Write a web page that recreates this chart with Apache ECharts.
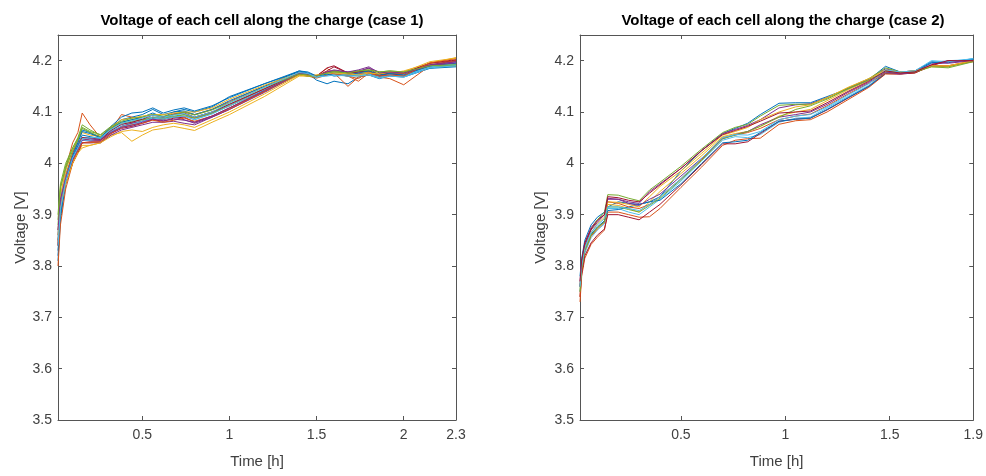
<!DOCTYPE html>
<html>
<head>
<meta charset="utf-8">
<script src="https://cdn.jsdelivr.net/npm/echarts@6/dist/echarts.min.js"></script>
<style>html,body{margin:0;padding:0;background:#fff;}#c{width:986px;height:476px;}</style>
</head>
<body>
<div id="c"></div>
<script>
// ---------- DATA ----------
const titles = ['Voltage of each cell along the charge (case 1)', 'Voltage of each cell along the charge (case 2)'];
const xName = 'Time [h]';
const yName = 'Voltage [V]';
const yTicks = [3.5, 3.6, 3.7, 3.8, 3.9, 4, 4.1, 4.2];
const case1XTicks = [0.5, 1, 1.5, 2, 2.3];
const case2XTicks = [0.5, 1, 1.5, 1.9];

const case1Time = [0.016, 0.03, 0.06, 0.1, 0.13, 0.155, 0.2, 0.26, 0.32, 0.38, 0.44, 0.5, 0.56, 0.62, 0.68, 0.74, 0.8, 0.9, 1.0, 1.2, 1.4, 1.45, 1.5, 1.56, 1.6, 1.68, 1.74, 1.8, 1.86, 1.92, 2.0, 2.15, 2.3];
const case1Volts = [
  [3.83, 3.90, 3.97, 4.02, 4.045, 4.065, 4.06, 4.05, 4.07, 4.085, 4.09, 4.095, 4.105, 4.095, 4.1, 4.105, 4.1, 4.11, 4.13, 4.155, 4.178, 4.175, 4.162, 4.155, 4.16, 4.155, 4.168, 4.172, 4.165, 4.17, 4.168, 4.185, 4.188],
  [3.84, 3.93, 3.99, 4.04, 4.06, 4.098, 4.075, 4.05, 4.065, 4.095, 4.09, 4.085, 4.09, 4.085, 4.095, 4.1, 4.095, 4.105, 4.12, 4.15, 4.176, 4.17, 4.17, 4.185, 4.175, 4.17, 4.165, 4.178, 4.17, 4.172, 4.17, 4.195, 4.2],
  [3.85, 3.91, 3.96, 4.0, 4.02, 4.035, 4.035, 4.04, 4.055, 4.06, 4.043, 4.055, 4.065, 4.068, 4.072, 4.068, 4.064, 4.08, 4.095, 4.13, 4.17, 4.17, 4.172, 4.178, 4.175, 4.172, 4.17, 4.175, 4.172, 4.175, 4.18, 4.195, 4.206],
  [3.87, 3.92, 3.965, 4.005, 4.025, 4.04, 4.04, 4.04, 4.055, 4.065, 4.07, 4.075, 4.08, 4.08, 4.082, 4.078, 4.075, 4.09, 4.105, 4.14, 4.175, 4.172, 4.17, 4.176, 4.18, 4.178, 4.18, 4.185, 4.178, 4.176, 4.175, 4.19, 4.198],
  [3.88, 3.95, 3.995, 4.03, 4.05, 4.075, 4.065, 4.055, 4.07, 4.08, 4.085, 4.085, 4.09, 4.09, 4.092, 4.095, 4.09, 4.1, 4.115, 4.145, 4.172, 4.17, 4.168, 4.175, 4.178, 4.175, 4.178, 4.18, 4.175, 4.178, 4.176, 4.188, 4.192],
  [3.86, 3.93, 3.98, 4.015, 4.035, 4.05, 4.048, 4.05, 4.065, 4.075, 4.08, 4.085, 4.09, 4.088, 4.09, 4.092, 4.085, 4.098, 4.115, 4.145, 4.176, 4.174, 4.168, 4.172, 4.176, 4.172, 4.174, 4.176, 4.17, 4.174, 4.172, 4.19, 4.195],
  [3.85, 3.91, 3.96, 4.0, 4.02, 4.04, 4.042, 4.042, 4.058, 4.068, 4.072, 4.078, 4.085, 4.082, 4.088, 4.09, 4.08, 4.092, 4.108, 4.14, 4.177, 4.174, 4.17, 4.18, 4.188, 4.176, 4.175, 4.178, 4.17, 4.172, 4.174, 4.192, 4.2],
  [3.81, 3.89, 3.96, 4.01, 4.035, 4.055, 4.052, 4.048, 4.068, 4.08, 4.085, 4.09, 4.098, 4.09, 4.1, 4.102, 4.095, 4.105, 4.122, 4.15, 4.18, 4.178, 4.17, 4.172, 4.174, 4.17, 4.172, 4.175, 4.168, 4.172, 4.17, 4.186, 4.19],
  [3.84, 3.92, 3.975, 4.02, 4.04, 4.05, 4.045, 4.045, 4.06, 4.072, 4.078, 4.082, 4.088, 4.085, 4.09, 4.092, 4.088, 4.098, 4.112, 4.145, 4.174, 4.17, 4.166, 4.172, 4.176, 4.15, 4.168, 4.172, 4.168, 4.165, 4.153, 4.19, 4.2],
  [3.87, 3.94, 3.985, 4.025, 4.045, 4.06, 4.055, 4.052, 4.07, 4.085, 4.088, 4.092, 4.095, 4.095, 4.098, 4.1, 4.1, 4.108, 4.125, 4.152, 4.176, 4.172, 4.17, 4.176, 4.178, 4.174, 4.176, 4.178, 4.174, 4.176, 4.175, 4.195, 4.205],
  [3.86, 3.925, 3.97, 4.01, 4.03, 4.045, 4.045, 4.045, 4.062, 4.072, 4.078, 4.082, 4.088, 4.086, 4.09, 4.085, 4.078, 4.09, 4.105, 4.138, 4.174, 4.172, 4.17, 4.178, 4.18, 4.176, 4.178, 4.186, 4.17, 4.176, 4.178, 4.192, 4.198],
  [3.89, 3.955, 3.99, 4.025, 4.045, 4.068, 4.06, 4.052, 4.068, 4.078, 4.082, 4.085, 4.088, 4.088, 4.09, 4.095, 4.088, 4.098, 4.112, 4.142, 4.173, 4.17, 4.168, 4.176, 4.18, 4.176, 4.18, 4.182, 4.178, 4.18, 4.178, 4.188, 4.19],
  [3.85, 3.92, 3.97, 4.01, 4.028, 4.045, 4.045, 4.048, 4.062, 4.072, 4.076, 4.082, 4.088, 4.086, 4.09, 4.092, 4.085, 4.096, 4.112, 4.143, 4.175, 4.173, 4.168, 4.174, 4.176, 4.172, 4.172, 4.174, 4.168, 4.172, 4.17, 4.188, 4.193],
  [3.84, 3.915, 3.965, 4.008, 4.03, 4.05, 4.05, 4.046, 4.064, 4.076, 4.08, 4.086, 4.094, 4.09, 4.096, 4.098, 4.09, 4.1, 4.115, 4.145, 4.176, 4.173, 4.17, 4.186, 4.19, 4.176, 4.178, 4.18, 4.172, 4.176, 4.176, 4.195, 4.202],
  [3.82, 3.9, 3.965, 4.015, 4.04, 4.062, 4.058, 4.05, 4.072, 4.09, 4.098, 4.1, 4.108, 4.098, 4.104, 4.108, 4.102, 4.112, 4.128, 4.155, 4.18, 4.176, 4.17, 4.174, 4.17, 4.172, 4.176, 4.18, 4.172, 4.175, 4.172, 4.19, 4.195],
  [3.8, 3.88, 3.95, 4.0, 4.025, 4.04, 4.04, 4.042, 4.058, 4.07, 4.075, 4.078, 4.084, 4.08, 4.084, 4.088, 4.082, 4.092, 4.106, 4.14, 4.174, 4.172, 4.17, 4.178, 4.174, 4.17, 4.16, 4.176, 4.17, 4.172, 4.17, 4.196, 4.204],
  [3.86, 3.915, 3.96, 4.0, 4.02, 4.03, 4.035, 4.04, 4.052, 4.062, 4.065, 4.062, 4.07, 4.075, 4.078, 4.075, 4.07, 4.085, 4.1, 4.135, 4.172, 4.17, 4.172, 4.176, 4.176, 4.174, 4.172, 4.176, 4.174, 4.178, 4.178, 4.198, 4.205],
  [3.87, 3.93, 3.97, 4.008, 4.028, 4.045, 4.048, 4.045, 4.06, 4.07, 4.074, 4.08, 4.086, 4.083, 4.086, 4.084, 4.08, 4.092, 4.108, 4.142, 4.175, 4.173, 4.17, 4.178, 4.182, 4.178, 4.182, 4.188, 4.176, 4.178, 4.176, 4.19, 4.196],
  [3.9, 3.96, 4.0, 4.03, 4.048, 4.07, 4.062, 4.056, 4.072, 4.082, 4.088, 4.09, 4.095, 4.092, 4.095, 4.1, 4.094, 4.104, 4.118, 4.148, 4.174, 4.172, 4.17, 4.176, 4.178, 4.176, 4.18, 4.182, 4.178, 4.18, 4.178, 4.19, 4.192],
  [3.84, 3.91, 3.965, 4.01, 4.03, 4.048, 4.05, 4.05, 4.066, 4.078, 4.083, 4.088, 4.094, 4.09, 4.094, 4.097, 4.09, 4.1, 4.118, 4.148, 4.177, 4.175, 4.168, 4.17, 4.172, 4.17, 4.17, 4.172, 4.166, 4.17, 4.168, 4.186, 4.19]
];

const case2Time = [0.017, 0.025, 0.04, 0.07, 0.1, 0.134, 0.15, 0.2, 0.25, 0.3, 0.35, 0.4, 0.5, 0.6, 0.7, 0.76, 0.82, 0.88, 0.97, 1.05, 1.12, 1.2, 1.3, 1.4, 1.48, 1.55, 1.62, 1.7, 1.78, 1.9];
const case2Volts = [
  [3.78, 3.815, 3.85, 3.88, 3.895, 3.905, 3.915, 3.925, 3.922, 3.92, 3.925, 3.935, 3.985, 4.025, 4.058, 4.068, 4.078, 4.095, 4.117, 4.118, 4.118, 4.13, 4.145, 4.163, 4.189, 4.178, 4.18, 4.198, 4.196, 4.204],
  [3.73, 3.78, 3.815, 3.842, 3.856, 3.87, 3.905, 3.905, 3.9, 3.895, 3.896, 3.912, 3.953, 3.993, 4.035, 4.045, 4.048, 4.049, 4.076, 4.083, 4.085, 4.1, 4.124, 4.148, 4.174, 4.174, 4.176, 4.19, 4.19, 4.198],
  [3.75, 3.795, 3.83, 3.86, 3.875, 3.888, 3.92, 3.918, 3.912, 3.905, 3.925, 3.945, 3.98, 4.015, 4.052, 4.058, 4.062, 4.072, 4.092, 4.1, 4.105, 4.122, 4.143, 4.162, 4.18, 4.176, 4.178, 4.188, 4.188, 4.2],
  [3.77, 3.81, 3.845, 3.875, 3.89, 3.9, 3.93, 3.93, 3.925, 3.922, 3.945, 3.96, 3.99, 4.025, 4.058, 4.066, 4.074, 4.085, 4.108, 4.114, 4.116, 4.128, 4.146, 4.164, 4.184, 4.178, 4.18, 4.195, 4.195, 4.2],
  [3.76, 3.80, 3.84, 3.872, 3.89, 3.905, 3.939, 3.938, 3.932, 3.927, 3.948, 3.963, 3.994, 4.028, 4.06, 4.07, 4.076, 4.092, 4.113, 4.115, 4.115, 4.127, 4.147, 4.165, 4.186, 4.178, 4.18, 4.19, 4.188, 4.2],
  [3.75, 3.79, 3.825, 3.855, 3.87, 3.882, 3.912, 3.912, 3.905, 3.9, 3.915, 3.93, 3.965, 4.005, 4.045, 4.052, 4.05, 4.056, 4.08, 4.088, 4.09, 4.108, 4.13, 4.152, 4.178, 4.176, 4.178, 4.196, 4.2, 4.202],
  [3.74, 3.785, 3.82, 3.845, 3.86, 3.872, 3.9, 3.9, 3.895, 3.89, 3.905, 3.92, 3.958, 3.998, 4.038, 4.038, 4.042, 4.058, 4.082, 4.086, 4.088, 4.104, 4.127, 4.15, 4.175, 4.174, 4.176, 4.19, 4.2, 4.2],
  [3.76, 3.8, 3.835, 3.862, 3.876, 3.888, 3.908, 3.91, 3.915, 3.92, 3.925, 3.928, 3.96, 4.0, 4.04, 4.042, 4.045, 4.06, 4.082, 4.086, 4.088, 4.105, 4.128, 4.15, 4.176, 4.175, 4.178, 4.196, 4.198, 4.202],
  [3.74, 3.79, 3.83, 3.858, 3.872, 3.885, 3.925, 3.922, 3.915, 3.912, 3.92, 3.935, 3.97, 4.008, 4.05, 4.055, 4.06, 4.068, 4.085, 4.092, 4.096, 4.112, 4.135, 4.156, 4.176, 4.175, 4.178, 4.19, 4.19, 4.2],
  [3.76, 3.8, 3.835, 3.865, 3.882, 3.895, 3.925, 3.924, 3.92, 3.915, 3.935, 3.955, 3.985, 4.02, 4.055, 4.062, 4.07, 4.085, 4.1, 4.11, 4.114, 4.128, 4.148, 4.165, 4.182, 4.178, 4.18, 4.19, 4.19, 4.2],
  [3.76, 3.8, 3.84, 3.87, 3.885, 3.9, 3.932, 3.93, 3.922, 3.918, 3.93, 3.94, 3.975, 4.01, 4.048, 4.056, 4.062, 4.075, 4.09, 4.095, 4.1, 4.115, 4.138, 4.158, 4.178, 4.174, 4.178, 4.192, 4.198, 4.2],
  [3.75, 3.795, 3.83, 3.86, 3.874, 3.886, 3.915, 3.915, 3.91, 3.905, 3.918, 3.932, 3.968, 4.006, 4.048, 4.055, 4.062, 4.072, 4.09, 4.105, 4.112, 4.125, 4.145, 4.162, 4.18, 4.177, 4.178, 4.188, 4.186, 4.198],
  [3.76, 3.8, 3.835, 3.865, 3.88, 3.892, 3.915, 3.915, 3.912, 3.908, 3.92, 3.935, 3.97, 4.01, 4.05, 4.056, 4.055, 4.062, 4.085, 4.092, 4.095, 4.11, 4.133, 4.155, 4.182, 4.178, 4.18, 4.2, 4.198, 4.204],
  [3.77, 3.81, 3.845, 3.872, 3.888, 3.9, 3.935, 3.933, 3.928, 3.925, 3.942, 3.958, 3.99, 4.025, 4.056, 4.064, 4.072, 4.082, 4.098, 4.1, 4.102, 4.118, 4.14, 4.16, 4.18, 4.176, 4.178, 4.192, 4.2, 4.2]
];

const lineColors = ['#0072BD', '#D95319', '#EDB120', '#7E2F8E', '#77AC30', '#4DBEEE', '#A2142F'];

// ---------- CHART ----------
const FONT = '"Liberation Sans", Arial, sans-serif';
const axisColor = '#555555';
const labelColor = '#404040';

function xAxes(gridIndex, min, max, ticks) {
  const base = {
    type: 'value', gridIndex: gridIndex, min: min, max: max,
    splitLine: { show: false },
    axisLine: { show: true, onZero: false, lineStyle: { color: axisColor, width: 1 } },
  };
  return [
    Object.assign({}, base, {
      position: 'bottom',
      name: xName, nameLocation: 'middle', nameGap: 34,
      nameTextStyle: { color: labelColor, fontSize: 15, fontFamily: FONT },
      axisTick: { show: true, inside: true, length: 4, customValues: ticks, lineStyle: { color: axisColor } },
      axisLabel: { show: true, customValues: ticks, margin: 8, color: labelColor, fontSize: 14, fontFamily: FONT }
    }),
    Object.assign({}, base, {
      position: 'top',
      axisTick: { show: true, inside: true, length: 4, customValues: ticks, lineStyle: { color: axisColor } },
      axisLabel: { show: false }
    })
  ];
}
function yAxes(gridIndex, nameGap) {
  const base = {
    type: 'value', gridIndex: gridIndex, min: 3.5, max: 4.25,
    splitLine: { show: false },
    axisLine: { show: true, onZero: false, lineStyle: { color: axisColor, width: 1 } },
  };
  return [
    Object.assign({}, base, {
      position: 'left',
      name: yName, nameLocation: 'middle', nameGap: nameGap, nameRotate: 90,
      nameTextStyle: { color: labelColor, fontSize: 15, fontFamily: FONT },
      axisTick: { show: true, inside: true, length: 4, customValues: yTicks, lineStyle: { color: axisColor } },
      axisLabel: { show: true, customValues: yTicks, margin: 6, color: labelColor, fontSize: 14, fontFamily: FONT }
    }),
    Object.assign({}, base, {
      position: 'right',
      axisTick: { show: true, inside: true, length: 4, customValues: yTicks, lineStyle: { color: axisColor } },
      axisLabel: { show: false }
    })
  ];
}

const series = [];
case1Volts.forEach((vals, k) => {
  series.push({
    type: 'line', xAxisIndex: 0, yAxisIndex: 0, showSymbol: false, symbol: 'none',
    lineStyle: { width: 1, color: lineColors[k % lineColors.length] },
    data: case1Time.map((t, i) => [t, vals[i]])
  });
});
case2Volts.forEach((vals, k) => {
  series.push({
    type: 'line', xAxisIndex: 2, yAxisIndex: 2, showSymbol: false, symbol: 'none',
    lineStyle: { width: 1, color: lineColors[k % lineColors.length] },
    data: case2Time.map((t, i) => [t, vals[i]])
  });
});

const chart = echarts.init(document.getElementById('c'), null, { renderer: 'canvas' });
chart.setOption({
  animation: false,
  backgroundColor: '#ffffff',
  title: [
    { text: titles[0], left: 257, top: 8, textAlign: 'center',
      textStyle: { fontSize: 15, fontWeight: 'bold', color: '#000', fontFamily: FONT } },
    { text: titles[1], left: 778, top: 8, textAlign: 'center',
      textStyle: { fontSize: 15, fontWeight: 'bold', color: '#000', fontFamily: FONT } }
  ],
  grid: [
    { left: 58, right: 530, top: 35, bottom: 56, containLabel: false },
    { left: 580, right: 9, top: 35, bottom: 56, containLabel: false }
  ],
  xAxis: xAxes(0, 0.016, 2.3, case1XTicks).concat(xAxes(1, 0.017, 1.9, case2XTicks)),
  yAxis: yAxes(0, 28).concat(yAxes(1, 32)),
  series: series
});
</script>
</body>
</html>
